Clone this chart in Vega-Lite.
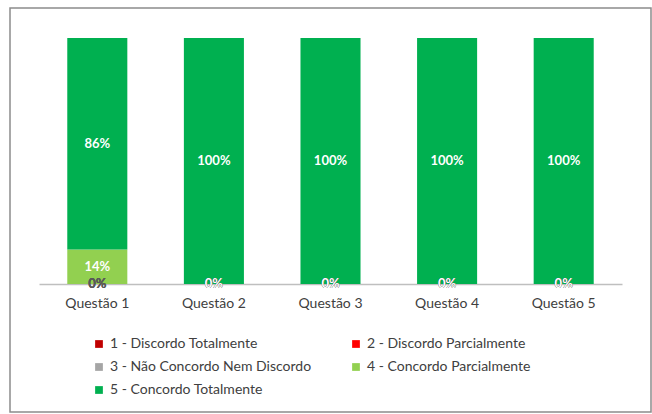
{
  "$schema": "https://vega.github.io/schema/vega-lite/v6.json",
  "autosize": {"type": "none"},
  "width": 641,
  "height": 404,
  "padding": {"left": 10, "top": 8, "right": 1, "bottom": 2},
  "background": "white",
  "config": {
    "view": {"stroke": "#8c8c8c", "strokeWidth": 1.5},
    "font": "Lato"
  },
  "data": {
    "values": [
      {"q": "Questão 1", "cat": "1 - Discordo Totalmente", "v": 0},
      {"q": "Questão 1", "cat": "2 - Discordo Parcialmente", "v": 0},
      {"q": "Questão 1", "cat": "3 - Não Concordo Nem Discordo", "v": 0},
      {"q": "Questão 1", "cat": "4 - Concordo Parcialmente", "v": 0.14},
      {"q": "Questão 1", "cat": "5 - Concordo Totalmente", "v": 0.86},
      {"q": "Questão 2", "cat": "1 - Discordo Totalmente", "v": 0},
      {"q": "Questão 2", "cat": "2 - Discordo Parcialmente", "v": 0},
      {"q": "Questão 2", "cat": "3 - Não Concordo Nem Discordo", "v": 0},
      {"q": "Questão 2", "cat": "4 - Concordo Parcialmente", "v": 0},
      {"q": "Questão 2", "cat": "5 - Concordo Totalmente", "v": 1},
      {"q": "Questão 3", "cat": "1 - Discordo Totalmente", "v": 0},
      {"q": "Questão 3", "cat": "2 - Discordo Parcialmente", "v": 0},
      {"q": "Questão 3", "cat": "3 - Não Concordo Nem Discordo", "v": 0},
      {"q": "Questão 3", "cat": "4 - Concordo Parcialmente", "v": 0},
      {"q": "Questão 3", "cat": "5 - Concordo Totalmente", "v": 1},
      {"q": "Questão 4", "cat": "1 - Discordo Totalmente", "v": 0},
      {"q": "Questão 4", "cat": "2 - Discordo Parcialmente", "v": 0},
      {"q": "Questão 4", "cat": "3 - Não Concordo Nem Discordo", "v": 0},
      {"q": "Questão 4", "cat": "4 - Concordo Parcialmente", "v": 0},
      {"q": "Questão 4", "cat": "5 - Concordo Totalmente", "v": 1},
      {"q": "Questão 5", "cat": "1 - Discordo Totalmente", "v": 0},
      {"q": "Questão 5", "cat": "2 - Discordo Parcialmente", "v": 0},
      {"q": "Questão 5", "cat": "3 - Não Concordo Nem Discordo", "v": 0},
      {"q": "Questão 5", "cat": "4 - Concordo Parcialmente", "v": 0},
      {"q": "Questão 5", "cat": "5 - Concordo Totalmente", "v": 1}
    ]
  },
  "transform": [
    {"stack": "v", "groupby": ["q"], "sort": [{"field": "cat", "order": "ascending"}], "as": ["v0", "v1"]},
    {"calculate": "(datum.v0 + datum.v1) / 2", "as": "mid"}
  ],
  "layer": [
    {
      "mark": {"type": "bar"},
      "encoding": {
        "x": {
          "field": "q", "type": "nominal",
          "scale": {"range": [29, 612], "paddingInner": 0.485, "paddingOuter": 0.2425},
          "axis": {
            "title": null, "labelAngle": 0, "offset": -128,
            "domainColor": "#bfbfbf", "domainWidth": 1.5, "ticks": false,
            "labelFont": "Lato", "labelFontSize": 14, "labelColor": "#404040", "labelPadding": 12
          }
        },
        "y": {
          "field": "v0", "type": "quantitative",
          "scale": {"domain": [0, 1], "range": [276, 30]},
          "axis": null
        },
        "y2": {"field": "v1"},
        "color": {
          "field": "cat", "type": "nominal",
          "scale": {
            "domain": ["1 - Discordo Totalmente", "2 - Discordo Parcialmente", "3 - Não Concordo Nem Discordo", "4 - Concordo Parcialmente", "5 - Concordo Totalmente"],
            "range": ["#c00000", "#ff0000", "#a5a5a5", "#92d050", "#00b050"]
          },
          "legend": {
            "title": null, "orient": "none", "legendX": 82, "legendY": 329,
            "direction": "horizontal", "columns": 2, "columnPadding": 37, "rowPadding": 9,
            "symbolType": "square", "symbolSize": 60, "symbolStrokeWidth": 0, "symbolOpacity": 1,
            "labelFont": "Lato", "labelFontSize": 14, "labelColor": "#404040", "labelLimit": 300,
            "gridAlign": "all"
          }
        }
      }
    },
    {
      "mark": {"type": "text", "fontWeight": "bold", "fontSize": 13, "font": "Lato"},
      "encoding": {
        "x": {"field": "q", "type": "nominal"},
        "y": {"field": "mid", "type": "quantitative"},
        "text": {"field": "v", "type": "quantitative", "format": ".0%"},
        "color": {
          "condition": {"test": "datum.cat < '4'", "value": "#595959"},
          "value": "white"
        }
      }
    }
  ]
}
